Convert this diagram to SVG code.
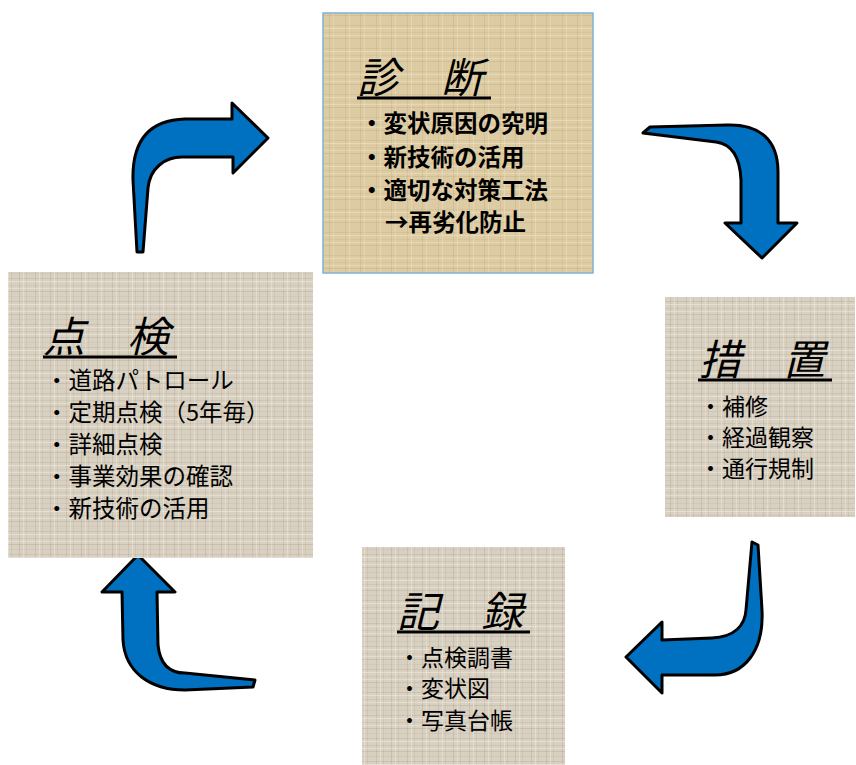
<svg xmlns="http://www.w3.org/2000/svg" width="856" height="765" viewBox="0 0 856 765">
<style>
.title{font-family:"Noto Sans CJK JP","Noto Sans CJK SC",sans-serif;font-size:42px;font-style:italic;fill:#000}
.item{font-family:"Noto Sans CJK JP","Noto Sans CJK SC",sans-serif;font-size:23.5px;fill:#000}
.sm{font-size:23px}
.bold{font-weight:bold}
.ul{stroke:#000;stroke-width:3}
.arrow{fill:#0070c0;stroke:#000;stroke-width:3;stroke-linejoin:round}
</style>
<defs>
<pattern id="burlapG" width="31" height="23" patternUnits="userSpaceOnUse">
<rect width="31" height="23" fill="#d8d0c1"/>
<rect x="0" y="2" width="31" height="1" fill="#b3a995" opacity="0.35"/>
<rect x="0" y="9" width="31" height="1" fill="#b3a995" opacity="0.25"/>
<rect x="0" y="15" width="31" height="1" fill="#a99f8b" opacity="0.35"/>
<rect x="0" y="20" width="31" height="1" fill="#b3a995" opacity="0.2"/>
<rect x="4" y="0" width="1" height="23" fill="#a99f8b" opacity="0.3"/>
<rect x="11" y="0" width="1" height="23" fill="#a99f8b" opacity="0.2"/>
<rect x="19" y="0" width="1" height="23" fill="#a99f8b" opacity="0.35"/>
<rect x="26" y="0" width="1" height="23" fill="#a99f8b" opacity="0.2"/>
<rect x="0" y="5" width="31" height="1" fill="#eee9df" opacity="0.6"/>
<rect x="0" y="12" width="31" height="1" fill="#eee9df" opacity="0.5"/>
<rect x="8" y="0" width="1" height="23" fill="#eee9df" opacity="0.5"/>
<rect x="23" y="0" width="1" height="23" fill="#eee9df" opacity="0.45"/>
</pattern>
<pattern id="burlapY" width="31" height="23" patternUnits="userSpaceOnUse">
<rect width="31" height="23" fill="#dccba3"/>
<rect x="0" y="2" width="31" height="1" fill="#c2aa78" opacity="0.3"/>
<rect x="0" y="9" width="31" height="1" fill="#c2aa78" opacity="0.2"/>
<rect x="0" y="15" width="31" height="1" fill="#b89f6c" opacity="0.3"/>
<rect x="4" y="0" width="1" height="23" fill="#b89f6c" opacity="0.25"/>
<rect x="19" y="0" width="1" height="23" fill="#b89f6c" opacity="0.3"/>
<rect x="0" y="5" width="31" height="1" fill="#ede2c6" opacity="0.6"/>
<rect x="0" y="12" width="31" height="1" fill="#ede2c6" opacity="0.5"/>
<rect x="8" y="0" width="1" height="23" fill="#ede2c6" opacity="0.5"/>
<rect x="23" y="0" width="1" height="23" fill="#ede2c6" opacity="0.45"/>
</pattern>
</defs>
<rect width="856" height="765" fill="#ffffff"/>

<g id="connectors">
<path class="arrow" d="M137,252 L133,180 C132,140 150,120 185,119 L232,119 L232,103 L268,138 L233,173 L233,157 L182,157 C165,157 150,168 148,188 L143,252 Z"/>
<path class="arrow" d="M643,133 L650,127 L727,125 C760,124 778,140 778,172 L778,223 L797,223 L762,258 L725,223 L741,223 L741,180 C740,158 732,144 716,142 Z"/>
<path class="arrow" d="M752,542 L758,545 L762,610 C764,650 745,675 715,675 L662,675 L662,693 L626,657 L662,622 L662,640 L712,638 C735,637 745,625 746,610 Z"/>
<path class="arrow" d="M138,555 L175,592 L157,592 L158,645 C160,665 170,673 185,673 L255,680 L253,687 L185,690 C150,690 125,672 123,640 L122,592 L102,592 Z"/>
</g>

<g id="node-shindan">
<rect x="323" y="13" width="270" height="260" fill="url(#burlapY)" stroke="#7fb2da" stroke-width="1.5"/>
<text class="title" x="357" y="93">診　断</text>
<line class="ul" x1="357" y1="98" x2="491" y2="98"/>
<text class="item bold" x="360" y="132">・変状原因の究明</text>
<text class="item bold" x="360" y="166">・新技術の活用</text>
<text class="item bold" x="360" y="199">・適切な対策工法</text>
<text class="item bold" x="385" y="231">→再劣化防止</text>
</g>

<g id="node-tenken">
<rect x="8" y="272" width="305" height="286" fill="url(#burlapG)"/>
<text class="title" x="43" y="352">点　検</text>
<line class="ul" x1="43" y1="357" x2="177" y2="357"/>
<text class="item" x="45" y="389">・道路パトロール</text>
<text class="item" x="45" y="421">・定期点検（5年毎）</text>
<text class="item" x="45" y="453">・詳細点検</text>
<text class="item" x="45" y="485">・事業効果の確認</text>
<text class="item" x="45" y="517">・新技術の活用</text>
</g>

<g id="node-sochi">
<rect x="665" y="297" width="190" height="220" fill="url(#burlapG)"/>
<text class="title" x="699" y="375">措　置</text>
<line class="ul" x1="698" y1="380" x2="832" y2="380"/>
<text class="item sm" x="699" y="415">・補修</text>
<text class="item sm" x="699" y="446">・経過観察</text>
<text class="item sm" x="699" y="477">・通行規制</text>
</g>

<g id="node-kiroku">
<rect x="362" y="547" width="203" height="218" fill="url(#burlapG)"/>
<text class="title" x="397" y="627">記　録</text>
<line class="ul" x1="397" y1="632" x2="530" y2="632"/>
<text class="item sm" x="398" y="666">・点検調書</text>
<text class="item sm" x="398" y="697">・変状図</text>
<text class="item sm" x="398" y="729">・写真台帳</text>
</g>
</svg>
